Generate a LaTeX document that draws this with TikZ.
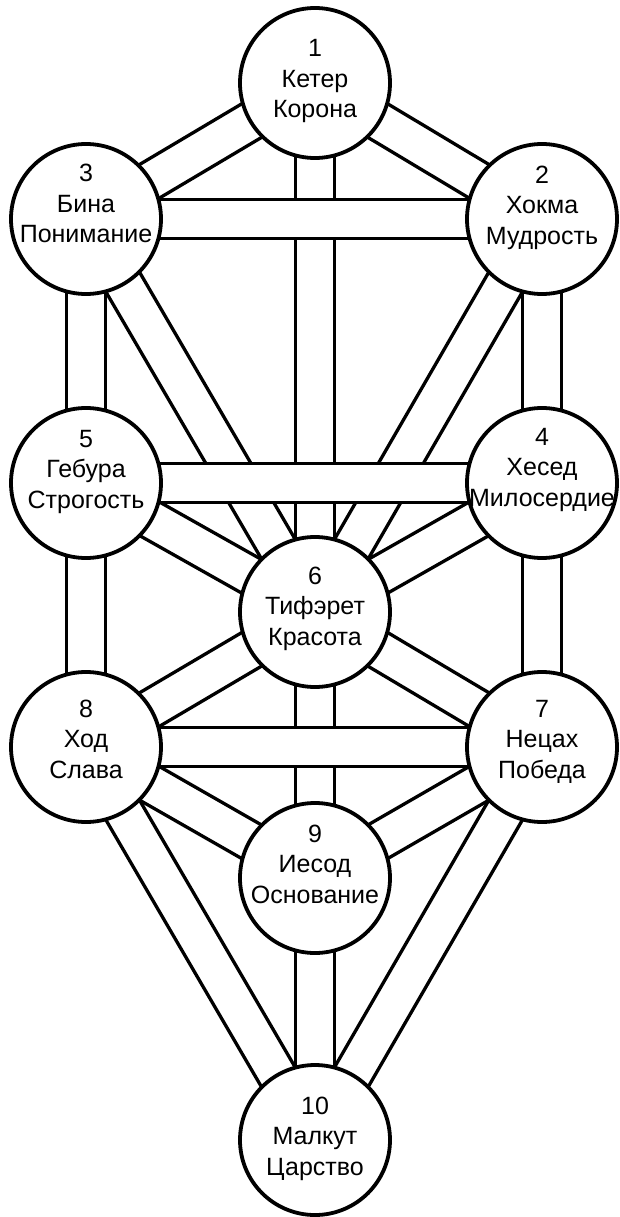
\documentclass[tikz,border=0pt]{standalone}
\usepackage{fontspec}
\setmainfont{Liberation Sans}
\usetikzlibrary{calc}
\pgfdeclarelayer{bgA}
\pgfdeclarelayer{bgB}
\pgfsetlayers{bgA,bgB,main}
\newcommand\chanlines[2]{%
  \draw[chan] ($(#1.center)!19.5pt!90:(#2.center)$) -- ($(#2.center)!19.5pt!-90:(#1.center)$);
  \draw[chan] ($(#1.center)!19.5pt!-90:(#2.center)$) -- ($(#2.center)!19.5pt!90:(#1.center)$);}
\newcommand\chanflat[2]{%
  \fill[white] ($(#1.center)+(0,-19.5)$) rectangle ($(#2.center)+(0,19.5)$);
  \chanlines{#1}{#2}}
\begin{document}
\begin{tikzpicture}[x=1pt,y=-1pt,
  sef/.style={circle,draw,line width=3.8pt,fill=white,minimum size=150pt,inner sep=0pt},
  chan/.style={line width=3.3pt},
  lbl/.style={anchor=base,inner sep=0pt,font=\fontsize{25}{30.5}\selectfont}]
\useasboundingbox (0,0) rectangle (619,1217);
\node[sef] (s1) at (315,83) {};
\node[sef] (s2) at (542,219) {};
\node[sef] (s3) at (86,219) {};
\node[sef] (s4) at (542,483) {};
\node[sef] (s5) at (86,483) {};
\node[sef] (s6) at (315,612) {};
\node[sef] (s7) at (542,747) {};
\node[sef] (s8) at (86,747) {};
\node[sef] (s9) at (315,878) {};
\node[sef] (s10) at (315,1140) {};
\node[lbl] (t1) at ($(s1.center)+(0,-26)$) {\begin{tabular}[t]{@{}c@{}}1\\Кетер\\Корона\end{tabular}};
\node[lbl] (t2) at ($(s2.center)+(0,-36)$) {\begin{tabular}[t]{@{}c@{}}2\\Хокма\\Мудрость\end{tabular}};
\node[lbl] (t3) at ($(s3.center)+(0,-37)$) {\begin{tabular}[t]{@{}c@{}}3\\Бина\\Понимание\end{tabular}};
\node[lbl] (t4) at ($(s4.center)+(0,-38)$) {\begin{tabular}[t]{@{}c@{}}4\\Хесед\\Милосердие\end{tabular}};
\node[lbl] (t5) at ($(s5.center)+(0,-36)$) {\begin{tabular}[t]{@{}c@{}}5\\Гебура\\Строгость\end{tabular}};
\node[lbl] (t6) at ($(s6.center)+(0,-28)$) {\begin{tabular}[t]{@{}c@{}}6\\Тифэрет\\Красота\end{tabular}};
\node[lbl] (t7) at ($(s7.center)+(0,-30)$) {\begin{tabular}[t]{@{}c@{}}7\\Нецах\\Победа\end{tabular}};
\node[lbl] (t8) at ($(s8.center)+(0,-30)$) {\begin{tabular}[t]{@{}c@{}}8\\Ход\\Слава\end{tabular}};
\node[lbl] (t9) at ($(s9.center)+(0,-36)$) {\begin{tabular}[t]{@{}c@{}}9\\Иесод\\Основание\end{tabular}};
\node[lbl] (t10) at ($(s10.center)+(0,-26)$) {\begin{tabular}[t]{@{}c@{}}10\\Малкут\\Царство\end{tabular}};
\begin{pgfonlayer}{bgA}
  \chanlines{s1}{s3}
  \chanlines{s1}{s2}
  \chanlines{s1}{s6}
  \chanlines{s3}{s5}
  \chanlines{s3}{s6}
  \chanlines{s2}{s4}
  \chanlines{s2}{s6}
  \chanlines{s5}{s6}
  \chanlines{s4}{s6}
  \chanlines{s5}{s8}
  \chanlines{s4}{s7}
  \chanlines{s6}{s8}
  \chanlines{s6}{s7}
  \chanlines{s6}{s9}
  \chanlines{s8}{s9}
  \chanlines{s7}{s9}
  \chanlines{s8}{s10}
  \chanlines{s7}{s10}
  \chanlines{s9}{s10}
\end{pgfonlayer}
\begin{pgfonlayer}{bgB}
  \chanflat{s3}{s2}
  \chanflat{s5}{s4}
  \chanflat{s8}{s7}
\end{pgfonlayer}
\end{tikzpicture}
\end{document}
